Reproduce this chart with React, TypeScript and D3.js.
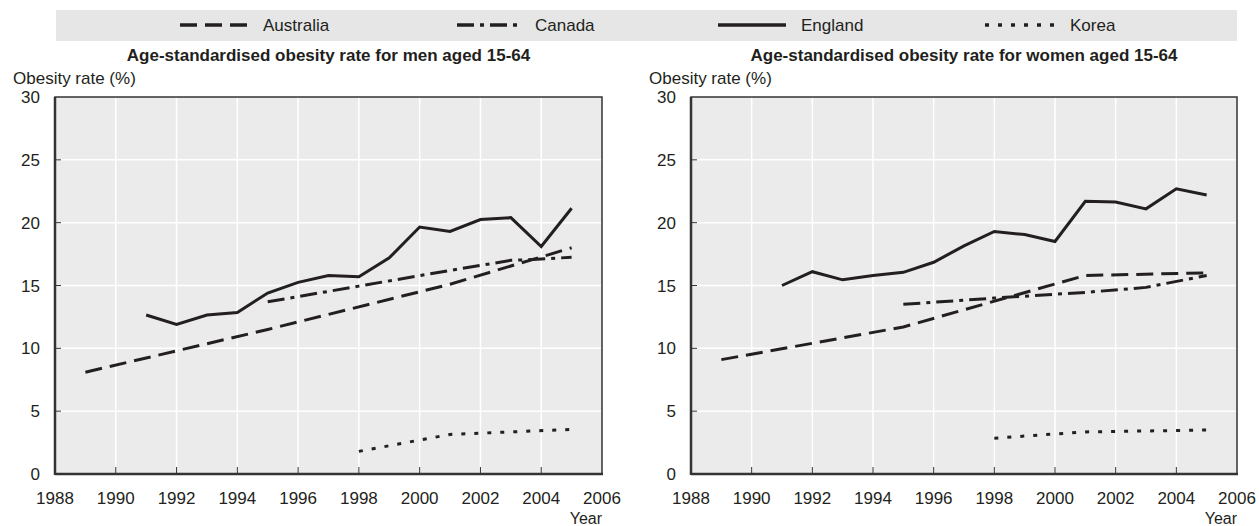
import React from "react";
import { scaleLinear, line, range } from "d3";

// data
const englandMenYears = [1991, 1992, 1993, 1994, 1995, 1996, 1997, 1998, 1999, 2000, 2001, 2002, 2003, 2004, 2005];
const englandMen = [12.65, 11.9, 12.65, 12.85, 14.4, 15.25, 15.8, 15.7, 17.2, 19.65, 19.3, 20.25, 20.4, 18.1, 21.15];
const canadaMenYears = [1995, 1998, 2001, 2003, 2004, 2005];
const canadaMen = [13.7, 14.95, 16.2, 17.0, 17.1, 17.25];
const australiaMenYears = [1989, 1995, 2001, 2005];
const australiaMen = [8.1, 11.5, 15.1, 18.0];
const koreaMenYears = [1998, 2001, 2005];
const koreaMen = [1.8, 3.15, 3.55];

const englandWomenYears = [1991, 1992, 1993, 1994, 1995, 1996, 1997, 1998, 1999, 2000, 2001, 2002, 2003, 2004, 2005];
const englandWomen = [15.0, 16.1, 15.45, 15.8, 16.05, 16.85, 18.15, 19.3, 19.05, 18.5, 21.7, 21.65, 21.1, 22.7, 22.2];
const canadaWomenYears = [1995, 1998, 2001, 2003, 2005];
const canadaWomen = [13.5, 14.0, 14.45, 14.85, 15.8];
const australiaWomenYears = [1989, 1995, 2001, 2005];
const australiaWomen = [9.1, 11.7, 15.8, 16.0];
const koreaWomenYears = [1998, 2001, 2005];
const koreaWomen = [2.85, 3.35, 3.5];

const countries = ["Australia", "Canada", "England", "Korea"];
const dashes = ["17,8", "17,6,4,6", "none", "4,9"];
const xTicks = range(1988, 2007, 2);
const yTicks = [0, 5, 10, 15, 20, 25, 30];

const FONT = "'Liberation Sans', Arial, sans-serif";
const INK = "#231f20";

const pairs = (years: number[], vals: number[]) => years.map((y, i) => [y, vals[i]] as [number, number]);

const Panel = ({ left, right, title, series }: any) => {
    const top = 97, bottom = 474;
    const x = scaleLinear().domain([1988, 2006]).range([left, right]);
    const y = scaleLinear().domain([0, 30]).range([bottom, top]);
    const path = line<[number, number]>().x(d => x(d[0])).y(d => y(d[1]));

    return (
        <g>
            <text x={(left + right) / 2} y={61} textAnchor="middle" fontWeight="bold" fontSize={17} fill={INK}>{title}</text>
            <text x={left - 42} y={84} fontSize={17} fill={INK}>Obesity rate (%)</text>
            <rect x={left} y={top} width={right - left} height={bottom - top} fill="#ebebeb" />

            {/* grid */}
            {xTicks.slice(1, -1).map(t => (
                <line key={"gx" + t} x1={x(t)} x2={x(t)} y1={top} y2={bottom} stroke="#fff" strokeWidth={1.5} />
            ))}
            {yTicks.slice(1, -1).map(t => (
                <line key={"gy" + t} x1={left} x2={right} y1={y(t)} y2={y(t)} stroke="#fff" strokeWidth={1.5} />
            ))}

            {/* tick marks */}
            {xTicks.slice(1, -1).map(t => (
                <line key={"tx" + t} x1={x(t)} x2={x(t)} y1={bottom} y2={bottom - 7} stroke="#333" strokeWidth={1} />
            ))}
            {yTicks.slice(1, -1).map(t => (
                <line key={"ty" + t} x1={left} x2={left + 6} y1={y(t)} y2={y(t)} stroke="#333" strokeWidth={1} />
            ))}

            {/* lines */}
            {series.map((s: any, i: number) => (
                <path key={i} d={path(s) || ""} fill="none" stroke={INK} strokeWidth={3}
                    strokeDasharray={dashes[i]} strokeLinejoin="miter" />
            ))}

            {/* frame */}
            <rect x={left} y={top} width={right - left} height={bottom - top} fill="none" stroke="#333" strokeWidth={1.5} />
            <line x1={left} x2={left} y1={top} y2={bottom + 1} stroke="#333" strokeWidth={2.5} />
            <line x1={left} x2={right + 1} y1={bottom} y2={bottom} stroke="#333" strokeWidth={2.5} />

            {/* labels */}
            {yTicks.map(t => (
                <text key={"ly" + t} x={left - 15} y={y(t)} dy="0.36em" textAnchor="end" fontSize={17} fill={INK}>{t}</text>
            ))}
            {xTicks.map(t => (
                <text key={"lx" + t} x={x(t)} y={504} textAnchor="middle" fontSize={17} fill={INK}>{t}</text>
            ))}
            <text x={right} y={524} textAnchor="end" fontSize={16} fill={INK}>Year</text>
        </g>
    );
};

export default function App() {
    const legendX = [180, 457, 718, 985];
    const legendW = [68, 63, 68, 70];

    return (
        <svg width={1259} height={526} style={{ position: "absolute", left: 0, top: 0, display: "block" }} fontFamily={FONT}>
            <rect width={1259} height={526} fill="#fff" />

            {/* legend */}
            <rect x={56} y={10} width={1181} height={31} fill="#e6e6e6" />
            {countries.map((c, i) => (
                <g key={c}>
                    <line x1={legendX[i]} x2={legendX[i] + legendW[i]} y1={25} y2={25} stroke={INK} strokeWidth={3.3} strokeDasharray={dashes[i]} />
                    <text x={legendX[i] + legendW[i] + 15} y={31} fontSize={17} fill={INK}>{c}</text>
                </g>
            ))}

            <Panel left={55} right={602} title="Age-standardised obesity rate for men aged 15-64"
                series={[
                    pairs(australiaMenYears, australiaMen),
                    pairs(canadaMenYears, canadaMen),
                    pairs(englandMenYears, englandMen),
                    pairs(koreaMenYears, koreaMen),
                ]} />
            <Panel left={691} right={1237} title="Age-standardised obesity rate for women aged 15-64"
                series={[
                    pairs(australiaWomenYears, australiaWomen),
                    pairs(canadaWomenYears, canadaWomen),
                    pairs(englandWomenYears, englandWomen),
                    pairs(koreaWomenYears, koreaWomen),
                ]} />
        </svg>
    );
}
